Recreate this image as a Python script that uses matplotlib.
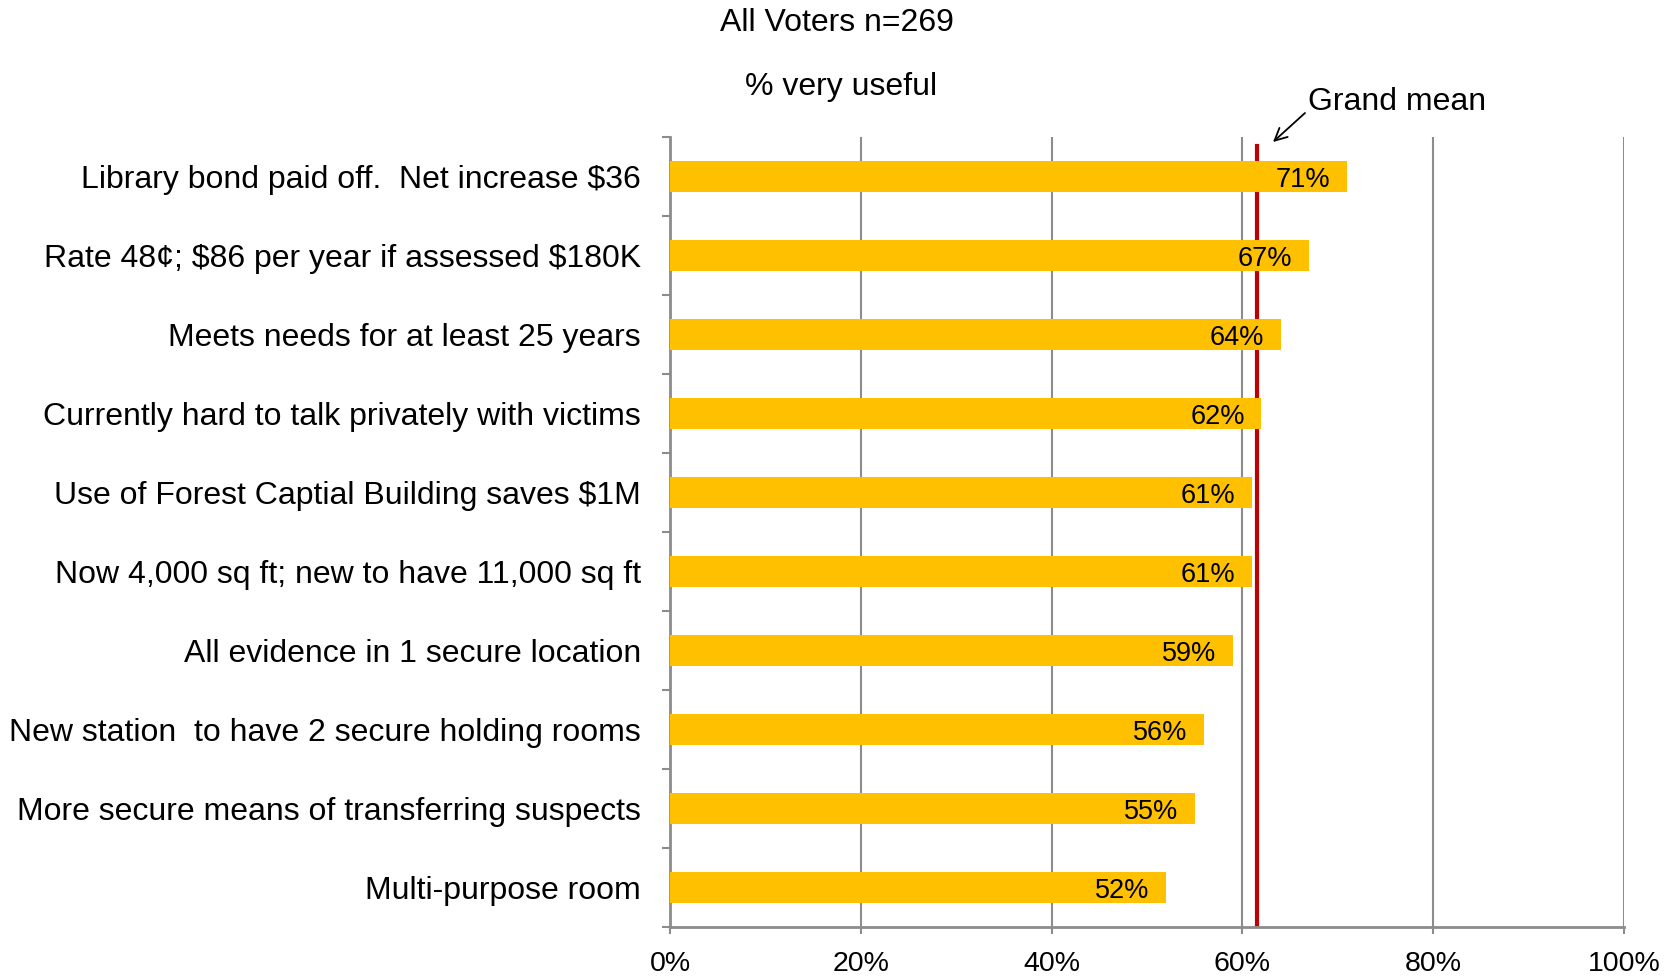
import numpy as np
import matplotlib
matplotlib.use('Agg')
import matplotlib.pyplot as plt
from matplotlib.ticker import FixedLocator, PercentFormatter

plt.rcParams['font.family'] = ['Liberation Sans', 'DejaVu Sans']

# data
categories = ['Library bond paid off.  Net increase \\$36',
              'Rate 48\u00a2; \\$86 per year if assessed \\$180K',
              'Meets needs for at least 25 years',
              'Currently hard to talk privately with victims',
              'Use of Forest Captial Building saves \\$1M',
              'Now 4,000 sq ft; new to have 11,000 sq ft',
              'All evidence in 1 secure location',
              'New station  to have 2 secure holding rooms',
              'More secure means of transferring suspects',
              'Multi-purpose room']
pct_very_useful = [71, 67, 64, 62, 61, 61, 59, 56, 55, 52]
grand_mean = 61.5
x_ticks = [0, 20, 40, 60, 80, 100]

BAR = '#FFC000'; GRID = '#8c8c8c'; RED = '#C00000'
FS = 23

fig = plt.figure(figsize=(16.73, 9.76), dpi=100)
ax = fig.add_axes([0.4005, 0.0502, 0.5702, 0.8094])

y = np.arange(len(categories))
ax.barh(y, pct_very_useful, height=0.4, color=BAR, zorder=3)
for yi, v in zip(y, pct_very_useful):
    ax.annotate(f'{v}%', (v, yi), xytext=(-12, 0), textcoords='offset points',
                ha='right', va='center_baseline', fontsize=19.5, zorder=4)

ax.set_ylim(len(categories) - 0.5, -0.5)
ax.set_xlim(0, 100)
ax.set_yticks(y)
ax.set_yticklabels(categories, fontsize=FS, va='center_baseline')
ax.yaxis.set_minor_locator(FixedLocator(np.arange(-0.5, len(categories), 1.0)))
ax.tick_params(axis='y', which='major', length=0, pad=21)
ax.tick_params(axis='y', which='minor', length=6, color=GRID, width=1.5)
ax.set_xticks(x_ticks)
ax.xaxis.set_major_formatter(PercentFormatter(decimals=0))
ax.tick_params(axis='x', length=5, color=GRID, width=1.5, labelsize=20.5, pad=12)

ax.grid(axis='x', color=GRID, lw=1.5, zorder=0)
for s in ['top', 'right']:
    ax.spines[s].set_visible(False)
for s in ['left', 'bottom']:
    ax.spines[s].set_color(GRID)
    ax.spines[s].set_linewidth(2)

# grand mean line sits behind the bars
ax.axvline(grand_mean, ymin=0, ymax=0.989, color=RED, lw=3, zorder=2)

# grand mean callout (figure pixels, origin bottom-left)
ax.annotate('', xy=(1273, 976 - 142), xycoords='figure pixels',
            xytext=(1305, 976 - 113), textcoords='figure pixels',
            arrowprops=dict(arrowstyle='->', lw=1.3, color='black',
                            shrinkA=0, shrinkB=0, mutation_scale=22),
            annotation_clip=False)
fig.text(1308 / 1673, 1 - 102 / 976, 'Grand mean', ha='left', va='center',
         fontsize=FS)

fig.text(0.5, 1 - 23 / 976, 'All Voters n=269', ha='center', va='center', fontsize=FS)
fig.text(0.503, 1 - 87 / 976, '% very useful', ha='center', va='center', fontsize=FS)

fig.savefig('out.png', dpi=100)
